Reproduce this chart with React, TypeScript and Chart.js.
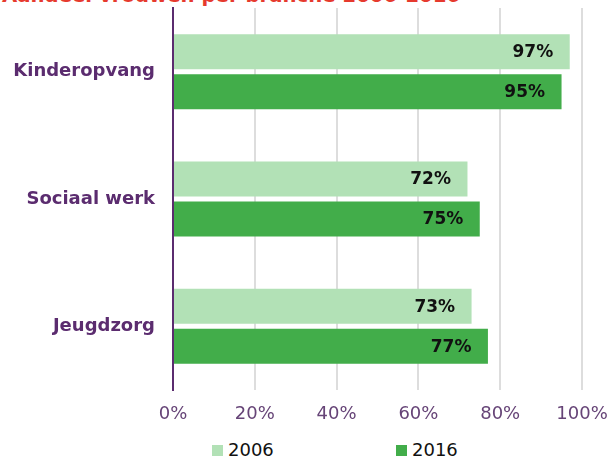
import React, { useEffect, useRef } from "react";
import { Chart, registerables } from "chart.js";

Chart.register(...registerables);

const title = "Aandeel vrouwen per branche 2006-2016";
const categories = ["Kinderopvang", "Sociaal werk", "Jeugdzorg"];
const seriesNames = ["2006", "2016"];
const values2006 = [97, 72, 73];
const values2016 = [95, 75, 77];
const xTicks = [0, 20, 40, 60, 80, 100];

const PURPLE = "#5b2c6f";
const TICK_PURPLE = "#664477";
const LIGHT = "#b2e1b6";
const DARK = "#42ad4a";
const FONT = "'DejaVu Sans', Verdana, sans-serif";

const valueLabels = {
  id: "valueLabels",
  afterDatasetsDraw(chart: any) {
    const ctx = chart.ctx;
    ctx.save();
    ctx.font = `bold 17px ${FONT}`;
    ctx.fillStyle = "#111";
    ctx.textAlign = "right";
    ctx.textBaseline = "middle";
    chart.data.datasets.forEach((ds: any, di: number) => {
      const meta = chart.getDatasetMeta(di);
      meta.data.forEach((bar: any, i: number) => {
        ctx.fillText(ds.data[i] + "%", bar.x - 16.5, bar.y + 1);
      });
    });
    ctx.restore();
  },
};

export default function App() {
  const ref = useRef<HTMLCanvasElement | null>(null);

  useEffect(() => {
    if (!ref.current) return;
    const chart = new Chart(ref.current, {
      type: "bar",
      data: {
        labels: categories,
        datasets: [
          { label: seriesNames[0], data: values2006, backgroundColor: LIGHT },
          { label: seriesNames[1], data: values2016, backgroundColor: DARK },
        ],
      },
      options: {
        indexAxis: "y",
        responsive: true,
        maintainAspectRatio: false,
        animation: false,
        layout: { padding: { top: 8, left: 13, right: 0, bottom: 0 } },
        datasets: {
          bar: { categoryPercentage: 0.628, barPercentage: 0.875 },
        },
        plugins: {
          legend: { display: false },
          tooltip: { enabled: false },
          title: { display: false },
        },
        scales: {
          x: {
            min: 0,
            max: 100,
            afterBuildTicks: (s: any) => {
              s.ticks = xTicks.map((v) => ({ value: v }));
            },
            afterFit: (s: any) => {
              s.height = 35;
              s.paddingLeft = 0;
              s.paddingRight = 27;
            },
            grid: {
              color: (c: any) => (c.index === 0 ? "rgba(0,0,0,0)" : "#dddddd"),
              lineWidth: 2,
              drawTicks: false,
            },
            border: { display: false },
            ticks: {
              padding: 14,
              color: TICK_PURPLE,
              font: { family: FONT, size: 18 },
              callback: (v: any) => v + "%",
            },
          },
          y: {
            afterFit: (s: any) => {
              s.width = 160;
              s.paddingTop = 0;
              s.paddingBottom = 0;
            },
            grid: { display: false, drawTicks: false },
            border: { display: true, color: PURPLE, width: 2 },
            ticks: {
              padding: 18,
              color: PURPLE,
              font: { family: FONT, size: 18, weight: "bold" },
            },
          },
        },
      },
      plugins: [valueLabels],
    });
    return () => chart.destroy();
  }, []);

  return (
    <div
      style={{
        position: "fixed",
        left: 0,
        top: 0,
        width: 609,
        height: 457,
        overflow: "hidden",
        background: "#fff",
      }}
    >
      <div
        style={{
          position: "absolute",
          left: 2,
          top: -14,
          font: `bold 19.7px/20px ${FONT}`,
          color: "#e63a2e",
          whiteSpace: "nowrap",
        }}
      >
        {title}
      </div>
      <div style={{ position: "absolute", left: 0, top: 0, width: 609, height: 425 }}>
        <canvas ref={ref} />
      </div>
      {seriesNames.map((name, i) => (
        <div
          key={name}
          style={{
            position: "absolute",
            left: i === 0 ? 212 : 396,
            top: 441,
            height: 18,
            whiteSpace: "nowrap",
            font: `18px/18px ${FONT}`,
            color: "#111",
          }}
        >
          <span
            style={{
              position: "absolute",
              left: 0,
              top: 4,
              width: 11,
              height: 11,
              background: i === 0 ? LIGHT : DARK,
            }}
          />
          <span style={{ position: "absolute", left: 16, top: 0 }}>{name}</span>
        </div>
      ))}
    </div>
  );
}
